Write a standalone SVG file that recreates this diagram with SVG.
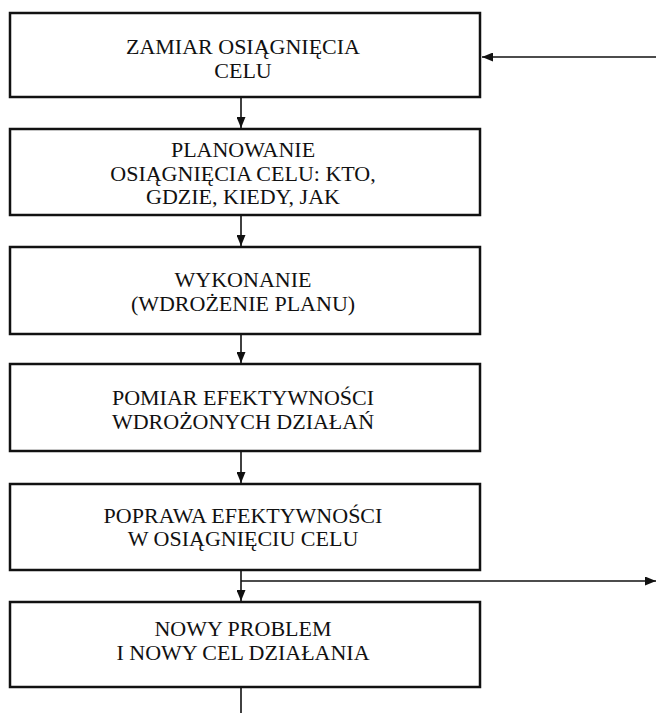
<svg xmlns="http://www.w3.org/2000/svg" width="656" height="713" viewBox="0 0 656 713">
<style>
.box{fill:#fff;stroke:#111;stroke-width:2.5}
.t{font-family:"Liberation Serif","Times New Roman",serif;font-size:22px;fill:#111;text-anchor:middle}
.c{stroke:#111;stroke-width:1.6;fill:none}
</style>
<defs>
<marker id="ah" viewBox="0 0 11 9" refX="11" refY="4.5" markerWidth="11" markerHeight="9" markerUnits="userSpaceOnUse" orient="auto">
<path d="M0,0 L11,4.5 L0,9 Z" fill="#111"/>
</marker>
</defs>
<rect width="656" height="713" fill="#fff"/>
<g id="connectors">
<line class="c" x1="241" y1="97" x2="241" y2="128" marker-end="url(#ah)"/>
<line class="c" x1="241" y1="215" x2="241" y2="246" marker-end="url(#ah)"/>
<line class="c" x1="241" y1="334" x2="241" y2="363" marker-end="url(#ah)"/>
<line class="c" x1="241" y1="451" x2="241" y2="483" marker-end="url(#ah)"/>
<line class="c" x1="241" y1="570" x2="241" y2="601" marker-end="url(#ah)"/>
<line class="c" x1="241" y1="687" x2="241" y2="713"/>
<line class="c" x1="656" y1="57" x2="482" y2="57" marker-end="url(#ah)"/>
<line class="c" x1="241" y1="581" x2="656" y2="581" marker-end="url(#ah)"/>
</g>
<g id="n1">
<rect class="box" x="10" y="13" width="470" height="84"/>
<text class="t" x="243" y="54">ZAMIAR OSIĄGNIĘCIA</text>
<text class="t" x="243" y="78">CELU</text>
</g>
<g id="n2">
<rect class="box" x="10" y="129" width="470" height="86"/>
<text class="t" x="243" y="157">PLANOWANIE</text>
<text class="t" x="243" y="181">OSIĄGNIĘCIA CELU: KTO,</text>
<text class="t" x="243" y="204">GDZIE, KIEDY, JAK</text>
</g>
<g id="n3">
<rect class="box" x="10" y="247" width="470" height="87"/>
<text class="t" x="243" y="287">WYKONANIE</text>
<text class="t" x="243" y="311">(WDROŻENIE PLANU)</text>
</g>
<g id="n4">
<rect class="box" x="10" y="364" width="470" height="87"/>
<text class="t" x="243" y="405">POMIAR EFEKTYWNOŚCI</text>
<text class="t" x="243" y="429">WDROŻONYCH DZIAŁAŃ</text>
</g>
<g id="n5">
<rect class="box" x="10" y="484" width="470" height="86"/>
<text class="t" x="243" y="523">POPRAWA EFEKTYWNOŚCI</text>
<text class="t" x="243" y="546">W OSIĄGNIĘCIU CELU</text>
</g>
<g id="n6">
<rect class="box" x="10" y="602" width="470" height="85"/>
<text class="t" x="243" y="636">NOWY PROBLEM</text>
<text class="t" x="243" y="660">I NOWY CEL DZIAŁANIA</text>
</g>
</svg>
